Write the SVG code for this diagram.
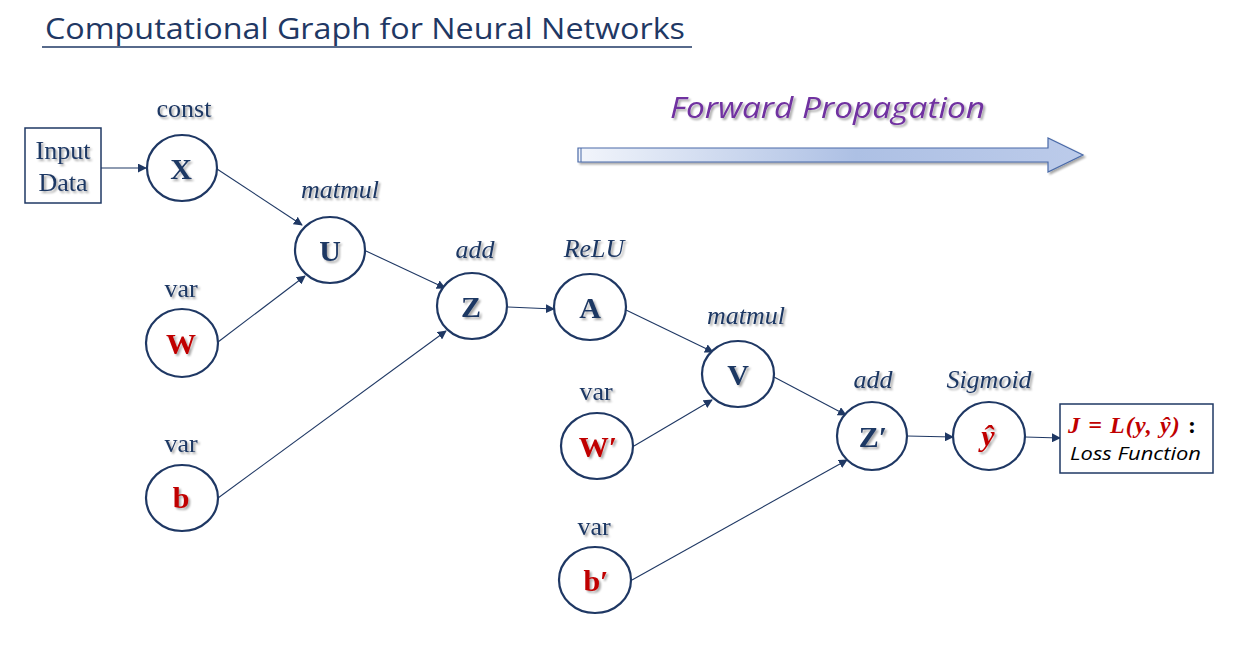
<svg xmlns="http://www.w3.org/2000/svg" width="1236" height="650" viewBox="0 0 1236 650">
<defs>
<linearGradient id="fg" x1="0" y1="0" x2="1" y2="0">
<stop offset="0" stop-color="#f2f5fb"/>
<stop offset="0.55" stop-color="#adc0e4"/>
<stop offset="1" stop-color="#bccbea"/>
</linearGradient>
<filter id="sh" x="-20%" y="-20%" width="140%" height="140%">
<feGaussianBlur in="SourceAlpha" stdDeviation="1.2"/>
<feOffset dx="1.5" dy="2" result="o"/>
<feComponentTransfer><feFuncA type="linear" slope="0.35"/></feComponentTransfer>
<feMerge><feMergeNode/><feMergeNode in="SourceGraphic"/></feMerge>
</filter>
<marker id="ah" viewBox="0 0 10 10" refX="9" refY="5" markerWidth="9" markerHeight="9" markerUnits="userSpaceOnUse" orient="auto">
<path d="M0,0 L10,5 L0,10 z" fill="#1f3864"/>
</marker>
</defs>
<style>
.node{fill:#fff;stroke:#1f3864;stroke-width:2.2}
.box{fill:#fff;stroke:#1f3864;stroke-width:1.5}
.nt{font-family:"Liberation Serif",serif;font-weight:bold;font-size:30px;text-anchor:middle;fill:#1f3864}
.red{fill:#c00000}
.lbl{font-family:"Liberation Serif",serif;font-size:26px;text-anchor:middle;fill:#1f3864}
.it{font-style:italic}
.conn line{stroke:#1f3864;stroke-width:1.1;marker-end:url(#ah)}
</style>
<rect width="1236" height="650" fill="#fff"/>
<g id="title">
<text x="45" y="39" font-family="Open Sans, sans-serif" font-size="30" fill="#1f3864" textLength="640" lengthAdjust="spacingAndGlyphs">Computational Graph for Neural Networks</text>
<line x1="42" y1="47" x2="692" y2="47" stroke="#1f3864" stroke-width="1.5"/>
</g>
<g id="forward">
<text x="670" y="118" font-family="Open Sans, sans-serif" font-style="italic" font-size="30" fill="#7030a0" textLength="315" lengthAdjust="spacingAndGlyphs" filter="url(#sh)">Forward Propagation</text>
<path d="M578,148 L1048,148 L1048,138 L1083,155 L1048,172 L1048,162 L578,162 z" fill="url(#fg)" stroke="#4a6aa8" stroke-width="1.2" filter="url(#sh)"/>
<line x1="581" y1="148" x2="581" y2="162" stroke="#4a6aa8" stroke-width="1"/>
</g>
<g class="conn" id="connectors">
<line x1="101" y1="168" x2="146" y2="168"/>
<line x1="217" y1="169" x2="302" y2="225"/>
<line x1="218" y1="342" x2="305" y2="276"/>
<line x1="366" y1="251" x2="445" y2="288"/>
<line x1="218" y1="498" x2="446" y2="331"/>
<line x1="508" y1="307" x2="554" y2="309"/>
<line x1="626" y1="310" x2="713" y2="352"/>
<line x1="634" y1="446" x2="712" y2="400"/>
<line x1="774" y1="377" x2="846" y2="415"/>
<line x1="632" y1="580" x2="847" y2="460"/>
<line x1="907" y1="436" x2="953" y2="437"/>
<line x1="1025" y1="437" x2="1060" y2="438"/>
</g>
<g id="input">
<rect class="box" x="25" y="128" width="76" height="75"/>
<text class="lbl" x="63" y="159" filter="url(#sh)">Input</text>
<text class="lbl" x="63" y="191" filter="url(#sh)">Data</text>
</g>
<g id="nX"><text class="lbl" x="184" y="117" filter="url(#sh)">const</text><ellipse class="node" cx="182" cy="168" rx="35" ry="33"/><text class="nt" x="181" y="179" filter="url(#sh)">X</text></g>
<g id="nU"><text class="lbl it" x="340" y="198" filter="url(#sh)">matmul</text><ellipse class="node" cx="330" cy="250" rx="35" ry="33"/><text class="nt" x="330" y="261" filter="url(#sh)">U</text></g>
<g id="nW"><text class="lbl" x="181" y="297" filter="url(#sh)">var</text><ellipse class="node" cx="182" cy="343" rx="36" ry="34"/><text class="nt red" x="181" y="354" filter="url(#sh)">W</text></g>
<g id="nb"><text class="lbl" x="181" y="452" filter="url(#sh)">var</text><ellipse class="node" cx="182" cy="498" rx="36" ry="33"/><text class="nt red" x="181" y="508" filter="url(#sh)">b</text></g>
<g id="nZ"><text class="lbl it" x="475" y="258" filter="url(#sh)">add</text><ellipse class="node" cx="472" cy="306" rx="35" ry="33"/><text class="nt" x="471" y="317" filter="url(#sh)">Z</text></g>
<g id="nA"><text class="lbl it" x="594" y="257" filter="url(#sh)">ReLU</text><ellipse class="node" cx="590" cy="307" rx="36" ry="33"/><text class="nt" x="590" y="318" filter="url(#sh)">A</text></g>
<g id="nV"><text class="lbl it" x="746" y="324" filter="url(#sh)">matmul</text><ellipse class="node" cx="738" cy="374" rx="36" ry="33"/><text class="nt" x="738" y="385" filter="url(#sh)">V</text></g>
<g id="nW2"><text class="lbl" x="596" y="400" filter="url(#sh)">var</text><ellipse class="node" cx="597" cy="446" rx="36" ry="33"/><text class="nt red" x="598" y="457" filter="url(#sh)">W′</text></g>
<g id="nb2"><text class="lbl" x="594" y="535" filter="url(#sh)">var</text><ellipse class="node" cx="595" cy="580" rx="36" ry="33"/><text class="nt red" x="596" y="591" filter="url(#sh)">b′</text></g>
<g id="nZ2"><text class="lbl it" x="873" y="388" filter="url(#sh)">add</text><ellipse class="node" cx="872" cy="436" rx="35" ry="34"/><text class="nt" x="873" y="447" filter="url(#sh)">Z′</text></g>
<g id="nY"><text class="lbl it" x="989" y="388" filter="url(#sh)">Sigmoid</text><ellipse class="node" cx="989" cy="436" rx="36" ry="34"/><text class="nt red it" x="988" y="446" font-weight="normal" filter="url(#sh)">ŷ</text></g>
<g id="loss">
<rect class="box" x="1060" y="404" width="153" height="69"/>
<text x="1068" y="433" font-family="Liberation Serif, serif" font-size="24" font-weight="bold" font-style="italic" fill="#c00000" textLength="128" lengthAdjust="spacing">J = L(y, ŷ)<tspan fill="#000" font-style="normal"> :</tspan></text>
<text x="1070" y="460" font-family="Open Sans, sans-serif" font-style="italic" font-size="19" fill="#000" textLength="131" lengthAdjust="spacingAndGlyphs">Loss Function</text>
</g>
</svg>
